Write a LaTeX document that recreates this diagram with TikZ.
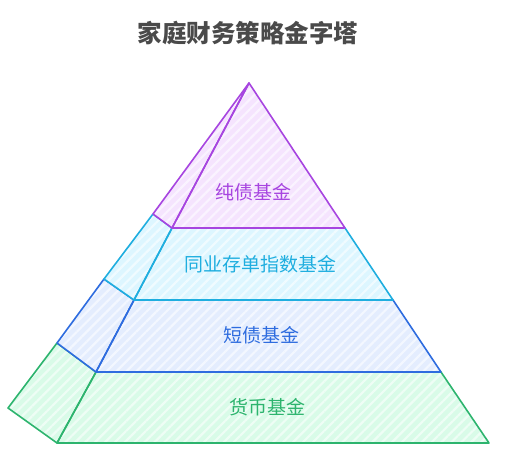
\documentclass[tikz,border=0pt]{standalone}
\usepackage{fontspec}
\setmainfont{Noto Sans CJK SC}
\usetikzlibrary{patterns.meta}
\definecolor{pstroke}{HTML}{A745E0}
\definecolor{pfill}{HTML}{F5E4FE}
\definecolor{cstroke}{HTML}{1FAEDF}
\definecolor{cfill}{HTML}{DDF6FF}
\definecolor{bstroke}{HTML}{2E6CDF}
\definecolor{bfill}{HTML}{E4EDFE}
\definecolor{gstroke}{HTML}{2DB46E}
\definecolor{gfill}{HTML}{D9FBE8}
\definecolor{titlec}{HTML}{4A4A4A}
\tikzset{
  layer/.style={draw=#1stroke, line width=1.6pt, line join=round},
  hatch/.style={pattern={Lines[angle=45,distance=7pt,line width=2.2pt]}, pattern color=white!55!#1fill},
  lbl/.style={text=#1stroke, font=\fontsize{19}{23}\selectfont, inner sep=0pt},
}
\begin{document}
\begin{tikzpicture}[x=1pt,y=-1pt]
\useasboundingbox (0,0) rectangle (505,468);
% green layer
\path[fill=gfill] (96,372)--(441,372)--(489,443)--(57,443)--cycle;
\path[hatch=g] (96,372)--(441,372)--(489,443)--(57,443)--cycle;
\path[fill=gfill] (57,343)--(96,372)--(57,443)--(8,408)--cycle;
\path[hatch=g] (57,343)--(96,372)--(57,443)--(8,408)--cycle;
\draw[layer=g] (96,372)--(441,372)--(489,443)--(57,443)--cycle;
\draw[layer=g] (57,343)--(96,372)--(57,443)--(8,408)--cycle;
% blue layer
\path[fill=bfill] (134,300)--(393,300)--(441,372)--(96,372)--cycle;
\path[hatch=b] (134,300)--(393,300)--(441,372)--(96,372)--cycle;
\path[fill=bfill] (104,279)--(134,300)--(96,372)--(57,343)--cycle;
\path[hatch=b] (104,279)--(134,300)--(96,372)--(57,343)--cycle;
\draw[layer=b] (134,300)--(393,300)--(441,372)--(96,372)--cycle;
\draw[layer=b] (104,279)--(134,300)--(96,372)--(57,343)--cycle;
% cyan layer
\path[fill=cfill] (172,228)--(345,228)--(393,300)--(134,300)--cycle;
\path[hatch=c] (172,228)--(345,228)--(393,300)--(134,300)--cycle;
\path[fill=cfill] (153,214)--(172,228)--(134,300)--(104,279)--cycle;
\path[hatch=c] (153,214)--(172,228)--(134,300)--(104,279)--cycle;
\draw[layer=c] (172,228)--(345,228)--(393,300)--(134,300)--cycle;
\draw[layer=c] (153,214)--(172,228)--(134,300)--(104,279)--cycle;
% purple layer
\path[fill=pfill] (249,83)--(345,228)--(172,228)--cycle;
\path[hatch=p] (249,83)--(345,228)--(172,228)--cycle;
\path[fill=pfill] (249,83)--(172,228)--(153,214)--cycle;
\path[hatch=p] (249,83)--(172,228)--(153,214)--cycle;
\draw[layer=p] (249,83)--(345,228)--(172,228)--cycle;
\draw[layer=p] (249,83)--(172,228)--(153,214)--cycle;
% labels
\node[lbl=p] (l1) at (253,192) {纯债基金};
\node[lbl=c] (l2) at (260,264) {同业存单指数基金};
\node[lbl=b] (l3) at (261,335) {短债基金};
\node[lbl=g] (l4) at (267,407) {货币基金};
\node[text=titlec, font=\fontsize{24.5}{29}\selectfont\bfseries, inner sep=0pt] (title) at (248,33) {家庭财务策略金字塔};
\end{tikzpicture}
\end{document}
